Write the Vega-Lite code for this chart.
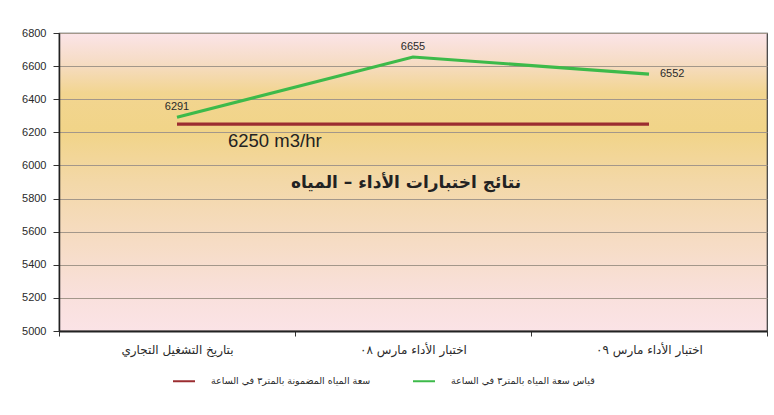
{
  "$schema": "https://vega.github.io/schema/vega-lite/v6.json",
  "width": 708,
  "height": 298,
  "padding": {"left": 21, "top": 27, "right": 8, "bottom": 0},
  "background": "white",
  "view": {
    "stroke": "#3a3a3a",
    "strokeWidth": 1.2,
    "fill": {
      "gradient": "linear",
      "x1": 0, "y1": 0, "x2": 0, "y2": 1,
      "stops": [
        {"offset": 0, "color": "#fbe4e8"},
        {"offset": 0.1, "color": "#f6dcc4"},
        {"offset": 0.2, "color": "#f2d590"},
        {"offset": 0.33, "color": "#f1d488"},
        {"offset": 0.5, "color": "#f3d8a8"},
        {"offset": 0.7, "color": "#f6dcc4"},
        {"offset": 0.88, "color": "#f9e0dc"},
        {"offset": 1, "color": "#fbe3e6"}
      ]
    }
  },
  "config": {
    "font": "Liberation Sans",
    "axis": {"labelFontSize": 11, "labelColor": "#2a2a2a", "tickColor": "#333333", "domainColor": "#222222"}
  },
  "datasets": {
    "series": [
      {"cat": "بتاريخ التشغيل التجاري", "series": "قياس سعة المياه بالمتر٣ في الساعة", "value": 6291},
      {"cat": "اختبار الأداء مارس ٠٨", "series": "قياس سعة المياه بالمتر٣ في الساعة", "value": 6655},
      {"cat": "اختبار الأداء مارس ٠٩", "series": "قياس سعة المياه بالمتر٣ في الساعة", "value": 6552},
      {"cat": "بتاريخ التشغيل التجاري", "series": "سعة المياه المضمونة بالمتر٣ في الساعة", "value": 6250},
      {"cat": "اختبار الأداء مارس ٠٨", "series": "سعة المياه المضمونة بالمتر٣ في الساعة", "value": 6250},
      {"cat": "اختبار الأداء مارس ٠٩", "series": "سعة المياه المضمونة بالمتر٣ في الساعة", "value": 6250}
    ],
    "notes": [
      {"cat": "بتاريخ التشغيل التجاري", "value": 6145, "label": "6250 m3/hr", "kind": "unit"},
      {"cat": "اختبار الأداء مارس ٠٨", "value": 5894, "label": "نتائج اختبارات الأداء – المياه", "kind": "title"}
    ]
  },
  "layer": [
    {
      "data": {"name": "series"},
      "mark": {"type": "line", "strokeWidth": 3.2},
      "encoding": {
        "x": {
          "field": "cat", "type": "nominal",
          "scale": {"domain": ["بتاريخ التشغيل التجاري", "اختبار الأداء مارس ٠٨", "اختبار الأداء مارس ٠٩"]},
          "axis": {
            "title": null, "labelAngle": 0, "tickBand": "extent", "tickSize": 5,
            "labelPadding": 8, "labelFont": "DejaVu Sans", "labelFontSize": 12,
            "domainWidth": 2, "grid": false
          }
        },
        "y": {
          "field": "value", "type": "quantitative",
          "scale": {"domain": [5000, 6800], "nice": false, "zero": false},
          "axis": {
            "title": null, "format": "d", "labelOverlap": false, "tickCount": 12,
            "values": [5000, 5200, 5400, 5600, 5800, 6000, 6200, 6400, 6600, 6800],
            "tickSize": 6, "labelPadding": 7, "minExtent": 37, "maxExtent": 37,
            "grid": true, "gridColor": "#a3978a", "gridWidth": 1, "domainWidth": 1.5
          }
        },
        "color": {
          "field": "series", "type": "nominal",
          "scale": {
            "domain": ["سعة المياه المضمونة بالمتر٣ في الساعة", "قياس سعة المياه بالمتر٣ في الساعة"],
            "range": ["#9b2d30", "#3dba4a"]
          },
          "legend": {
            "title": null, "orient": "none", "direction": "horizontal",
            "legendX": 113, "legendY": 336,
            "symbolType": "stroke", "symbolSize": 484, "symbolStrokeWidth": 2,
            "labelFont": "DejaVu Sans", "labelFontSize": 9.5, "labelColor": "#2a2a2a",
            "labelOffset": 15, "columnPadding": 38, "labelLimit": 400
          }
        }
      }
    },
    {
      "data": {"name": "series"},
      "transform": [
        {"filter": "datum.series === 'قياس سعة المياه بالمتر٣ في الساعة' && datum.cat !== 'اختبار الأداء مارس ٠٩'"}
      ],
      "mark": {"type": "text", "dy": -10, "fontSize": 11, "color": "#2a2a2a", "baseline": "middle", "align": "center"},
      "encoding": {
        "x": {"field": "cat", "type": "nominal"},
        "y": {"field": "value", "type": "quantitative"},
        "text": {"field": "value", "type": "quantitative", "format": "d"}
      }
    },
    {
      "data": {"name": "series"},
      "transform": [
        {"filter": "datum.series === 'قياس سعة المياه بالمتر٣ في الساعة' && datum.cat === 'اختبار الأداء مارس ٠٩'"}
      ],
      "mark": {"type": "text", "dx": 11, "fontSize": 11, "color": "#2a2a2a", "baseline": "middle", "align": "left"},
      "encoding": {
        "x": {"field": "cat", "type": "nominal"},
        "y": {"field": "value", "type": "quantitative"},
        "text": {"field": "value", "type": "quantitative", "format": "d"}
      }
    },
    {
      "data": {"name": "notes"},
      "transform": [{"filter": "datum.kind === 'unit'"}],
      "mark": {"type": "text", "dx": 51, "fontSize": 18.5, "color": "#222222", "baseline": "middle", "align": "left"},
      "encoding": {
        "x": {"field": "cat", "type": "nominal"},
        "y": {"field": "value", "type": "quantitative"},
        "text": {"field": "label"}
      }
    },
    {
      "data": {"name": "notes"},
      "transform": [{"filter": "datum.kind === 'title'"}],
      "mark": {"type": "text", "dx": -7, "fontSize": 17, "fontWeight": "bold", "font": "DejaVu Sans", "color": "#222222", "baseline": "middle", "align": "center"},
      "encoding": {
        "x": {"field": "cat", "type": "nominal"},
        "y": {"field": "value", "type": "quantitative"},
        "text": {"field": "label"}
      }
    }
  ]
}
